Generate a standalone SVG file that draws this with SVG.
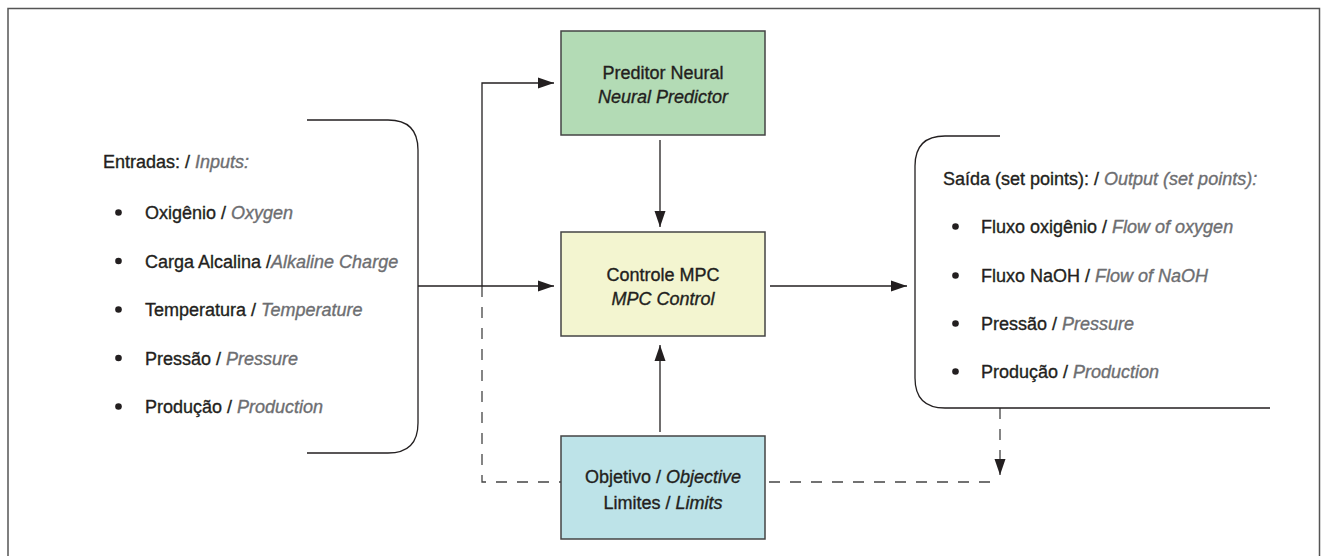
<svg xmlns="http://www.w3.org/2000/svg" width="1322" height="556" viewBox="0 0 1322 556">
<defs>
<marker id="arr" markerUnits="userSpaceOnUse" markerWidth="16" markerHeight="12" refX="16" refY="6" orient="auto">
<path d="M0,0.5 L16,6 L0,11.5 z" fill="#231f20"/>
</marker>
</defs>
<style>
text{font-family:"Liberation Sans",Arial,sans-serif;font-size:18px;fill:#231f20;stroke:#231f20;stroke-width:0.35}
.it{font-style:italic;fill:#6d6e71;stroke:#6d6e71}
.itb{font-style:italic;fill:#231f20;stroke:#231f20}
.mid{text-anchor:middle}
.box{stroke:#444;stroke-width:1.5}
.ln{fill:none;stroke:#231f20;stroke-width:1.3}
.dash{fill:none;stroke:#444;stroke-width:1.3;stroke-dasharray:11 10}
.br{fill:none;stroke:#231f20;stroke-width:1.3}
.frame{fill:none;stroke:#555;stroke-width:1.5}
</style>
<path class="frame" d="M8,556 V8.5 H1319.5 V556"/>
<g id="connectors">
<path class="dash" d="M482,286 V482 H1000"/>
<path class="dash" d="M1000,408 V475" marker-end="url(#arr)"/>
<path class="ln" d="M418,286 H554" marker-end="url(#arr)"/>
<path class="ln" d="M482,286 V83 H554" marker-end="url(#arr)"/>
<path class="ln" d="M660,140 V227" marker-end="url(#arr)"/>
<path class="ln" d="M660,432 V345" marker-end="url(#arr)"/>
<path class="ln" d="M770,286 H907" marker-end="url(#arr)"/>
</g>
<g id="inputs">
<path class="br" d="M307,120 H388 Q418,120 418,150 V423 Q418,453 388,453 H307"/>
<text x="103" y="168">Entradas: / <tspan class="it">Inputs:</tspan></text>
<g fill="#231f20">
<circle cx="118.5" cy="212.5" r="3.3"/>
<circle cx="118.5" cy="261" r="3.3"/>
<circle cx="118.5" cy="309.5" r="3.3"/>
<circle cx="118.5" cy="358" r="3.3"/>
<circle cx="118.5" cy="406.5" r="3.3"/>
</g>
<text x="145" y="219">Oxigênio / <tspan class="it">Oxygen</tspan></text>
<text x="145" y="267.5">Carga Alcalina /<tspan class="it">Alkaline Charge</tspan></text>
<text x="145" y="316">Temperatura / <tspan class="it">Temperature</tspan></text>
<text x="145" y="364.5">Pressão / <tspan class="it">Pressure</tspan></text>
<text x="145" y="413">Produção / <tspan class="it">Production</tspan></text>
</g>
<g id="predictor">
<rect class="box" x="561" y="31" width="204" height="104" fill="#b3dbb5"/>
<text class="mid" x="663" y="79">Preditor Neural</text>
<text class="mid itb" x="663" y="103">Neural Predictor</text>
</g>
<g id="mpc">
<rect class="box" x="561" y="232" width="204" height="104" fill="#f3f5d0"/>
<text class="mid" x="663" y="281">Controle MPC</text>
<text class="mid itb" x="663" y="305">MPC Control</text>
</g>
<g id="objective">
<rect class="box" x="561" y="436" width="204" height="103" fill="#bde3e8"/>
<text class="mid" x="663" y="483">Objetivo / <tspan class="itb">Objective</tspan></text>
<text class="mid" x="663" y="509">Limites / <tspan class="itb">Limits</tspan></text>
</g>
<g id="outputs">
<path class="br" d="M1000,136 H945 Q915,136 915,166 V378 Q915,408 945,408 H1270"/>
<text x="943" y="185">Saída (set points): / <tspan class="it">Output (set points):</tspan></text>
<g fill="#231f20">
<circle cx="955.5" cy="226.5" r="3.3"/>
<circle cx="955.5" cy="275.5" r="3.3"/>
<circle cx="955.5" cy="323.5" r="3.3"/>
<circle cx="955.5" cy="371.5" r="3.3"/>
</g>
<text x="981" y="233">Fluxo oxigênio / <tspan class="it">Flow of oxygen</tspan></text>
<text x="981" y="282">Fluxo NaOH / <tspan class="it">Flow of NaOH</tspan></text>
<text x="981" y="330">Pressão / <tspan class="it">Pressure</tspan></text>
<text x="981" y="378">Produção / <tspan class="it">Production</tspan></text>
</g>
</svg>
